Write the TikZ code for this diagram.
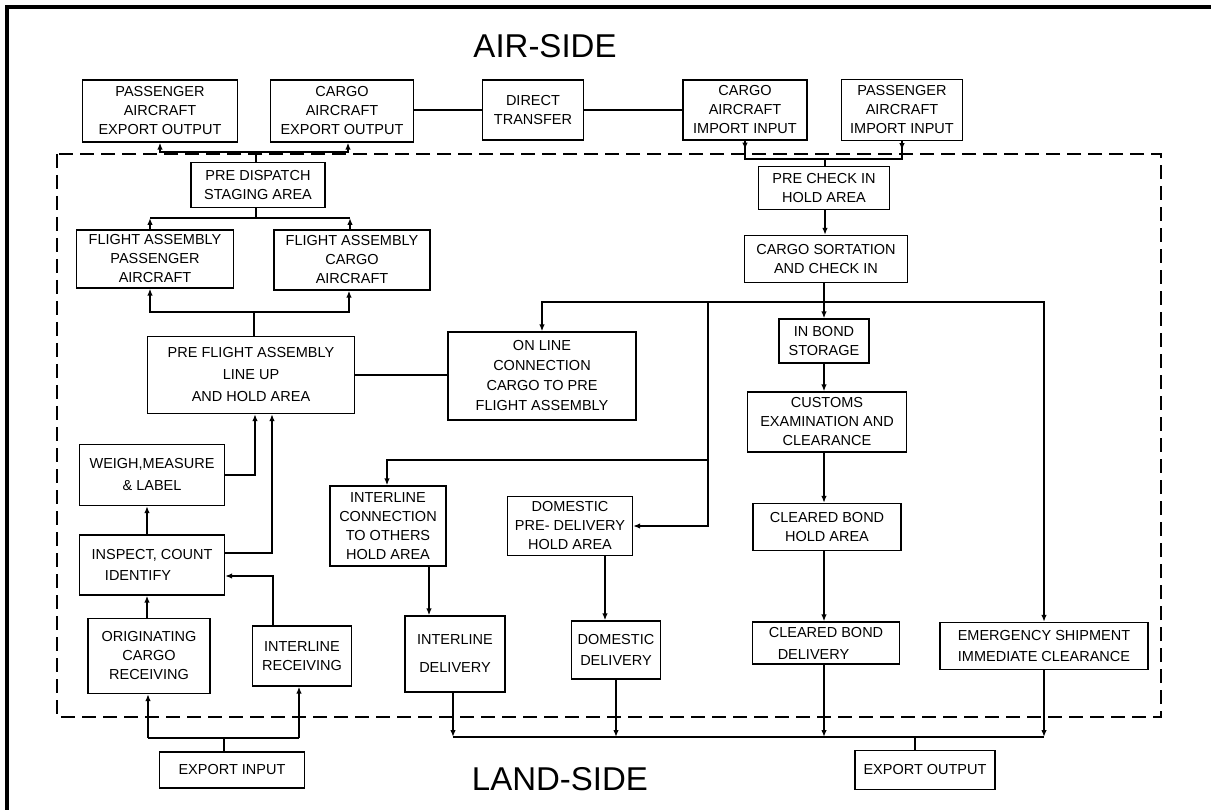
\documentclass[tikz,border=0pt]{standalone}
\usepackage{fontspec}
\setmainfont{Liberation Sans}
\usetikzlibrary{arrows.meta}
\begin{document}
\begin{tikzpicture}[x=1pt,y=-1pt,
  box/.style={draw, line width=1.3pt, align=center, inner sep=0pt,
    font=\fontsize{14.5}{19}\selectfont},
  conn/.style={line width=2pt},
  arr/.style={line width=2pt, -{Latex[length=7pt,width=5.5pt]}},
  zone/.style={line width=1.4pt, dash pattern=on 14pt off 7pt},
  frame/.style={line width=3.5pt},
  side/.style={font=\fontsize{33}{36}\selectfont}]
\useasboundingbox (0,0) rectangle (1211,810);
\fill[white] (0,0) rectangle (1211,810);
% frame
\draw[frame] (7,810) -- (7,7) -- (1211,7);
% zone
\draw[zone] (57,154) rectangle (1161,717);
\node[side] (air) at (545,46) {AIR-SIDE};
\node[side] (land) at (560,779) {LAND-SIDE};
% top row
\node[box, minimum width=155pt, minimum height=62pt] (pae) at (160,111) {PASSENGER\\AIRCRAFT\\EXPORT OUTPUT};
\node[box, minimum width=143pt, minimum height=62pt] (cae) at (342,111) {CARGO\\AIRCRAFT\\EXPORT OUTPUT};
\node[box, minimum width=101pt, minimum height=60pt] (dt) at (533,110) {DIRECT\\TRANSFER};
\node[box, minimum width=124pt, minimum height=60pt] (cai) at (745,110) {CARGO\\AIRCRAFT\\IMPORT INPUT};
\node[box, minimum width=121pt, minimum height=61pt] (pai) at (902,110) {PASSENGER\\AIRCRAFT\\IMPORT INPUT};
% left column
\node[box, minimum width=134pt, minimum height=45pt] (pds) at (258,185) {PRE DISPATCH\\STAGING AREA};
\node[box, minimum width=157pt, minimum height=58pt] (fap) at (155,259) {FLIGHT ASSEMBLY\\PASSENGER\\AIRCRAFT};
\node[box, minimum width=156pt, minimum height=60pt] (fac) at (352,260) {FLIGHT ASSEMBLY\\CARGO\\AIRCRAFT};
\node[box, minimum width=207pt, minimum height=77pt, font=\fontsize{14.5}{22}\selectfont] (pfa) at (251,375) {PRE FLIGHT ASSEMBLY\\LINE UP\hspace*{40pt}\\AND HOLD AREA};
\node[box, minimum width=188pt, minimum height=88pt, font=\fontsize{14.5}{20}\selectfont] (olc) at (542,376) {ON LINE\\CONNECTION\\CARGO TO PRE\\FLIGHT ASSEMBLY};
\node[box, minimum width=145pt, minimum height=61pt, font=\fontsize{14.5}{22}\selectfont] (wml) at (152,475) {WEIGH,MEASURE\\\& LABEL};
\node[box, minimum width=145pt, minimum height=60pt, font=\fontsize{14.5}{21}\selectfont] (ici) at (152,565) {INSPECT, COUNT\\IDENTIFY\hspace*{28pt}};
\node[box, minimum width=122pt, minimum height=75pt] (ocr) at (149,656) {ORIGINATING\\CARGO\\RECEIVING};
\node[box, minimum width=99pt, minimum height=60pt] (irc) at (302,656) {INTERLINE\\RECEIVING};
\node[box, minimum width=145pt, minimum height=36pt] (ein) at (232,770) {EXPORT INPUT};
% middle
\node[box, minimum width=116pt, minimum height=80pt] (icc) at (388,526) {INTERLINE\\CONNECTION\\TO OTHERS\\HOLD AREA};
\node[box, minimum width=125pt, minimum height=59pt] (dpd) at (570,526) {DOMESTIC\\PRE- DELIVERY\\HOLD AREA};
\node[box, minimum width=100pt, minimum height=76pt, font=\fontsize{14.5}{28}\selectfont] (ild) at (455,654) {INTERLINE\\DELIVERY};
\node[box, minimum width=89pt, minimum height=58pt, font=\fontsize{14.5}{21}\selectfont] (ddl) at (616,650) {DOMESTIC\\DELIVERY};
% right column
\node[box, minimum width=131pt, minimum height=43pt] (pci) at (824,188) {PRE CHECK IN\\HOLD AREA};
\node[box, minimum width=163pt, minimum height=47pt] (cs) at (826,259) {CARGO SORTATION\\AND CHECK IN};
\node[box, minimum width=90pt, minimum height=44pt] (ibs) at (824,341) {IN BOND\\STORAGE};
\node[box, minimum width=159pt, minimum height=60pt] (cec) at (827,422) {CUSTOMS\\EXAMINATION AND\\CLEARANCE};
\node[box, minimum width=148pt, minimum height=47pt] (cbh) at (827,527) {CLEARED BOND\\HOLD AREA};
\node[box, minimum width=147pt, minimum height=42pt, font=\fontsize{14.5}{22}\selectfont] (cbd) at (826,643) {CLEARED BOND\\DELIVERY\hspace*{25pt}};
\node[box, minimum width=208pt, minimum height=47pt, font=\fontsize{14.5}{21}\selectfont] (esi) at (1044,646) {EMERGENCY SHIPMENT\\IMMEDIATE CLEARANCE};
\node[box, minimum width=140pt, minimum height=39pt] (eou) at (925,770) {EXPORT OUTPUT};
% coordinates
\coordinate (j1) at (256,152);
\coordinate (j2) at (825,159);
\coordinate (j3) at (256,218);
\coordinate (j4) at (254,312);
\coordinate (j5) at (824,302);
\coordinate (j6) at (708,302);
\coordinate (j7) at (708,460);
\coordinate (bus) at (0,737);
\coordinate (bus2) at (0,738);
% top row links
\draw[conn] (dt.west -| cae.east) -- (dt.west);
\draw[conn] (dt.east) -- (dt.east -| cai.west);
% export output
\draw[conn] (pds.north -| j1) -- (j1);
\draw[arr] (j1) -| (pae.south);
\draw[arr] (j1) -| ([xshift=6pt]cae.south);
% import input
\draw[conn] (cai.south) |- (j2) -| (pai.south);
\draw[conn] (j2) -- (pci.north -| j2);
\draw[arr] (cai.south) -- ++(0,9);
\draw[arr] (pai.south) -- ++(0,9);
% flight assembly to pre dispatch
\draw[conn] (pds.south -| j3) -- (j3);
\draw[conn] ([xshift=-5pt]fap.north |- j3) -- ([xshift=-2pt]fac.north |- j3);
\draw[arr] ([xshift=-5pt]fap.north) -- ([xshift=-5pt]fap.north |- j3);
\draw[arr] ([xshift=-2pt]fac.north) -- ([xshift=-2pt]fac.north |- j3);
% pre flight to flight assembly
\draw[conn] (pfa.north -| j4) -- (j4);
\draw[arr] (j4) -| ([xshift=-5pt]fap.south);
\draw[arr] (j4) -| ([xshift=-3pt]fac.south);
% pre flight -- on line
\draw[conn] (pfa.east) -- (pfa.east -| olc.west);
% pre check -> sortation
\draw[arr] (pci.south -| j2) -- (cs.north -| j2);
% sortation distribution
\draw[arr] (cs.south -| ibs.north) -- (ibs.north);
\draw[arr] (j5) -| (olc.north);
\draw[arr] (j5) -| (esi.north);
\draw[arr] (j6) |- (dpd.east);
\draw[arr] (j7) -| ([xshift=-1pt]icc.north);
% customs chain
\draw[arr] (ibs.south) -- (ibs.south |- cec.north);
\draw[arr] (cec.south -| ibs.south) -- (cbh.north -| ibs.south);
\draw[arr] (cbh.south -| ibs.south) -- (cbd.north -| ibs.south);
% middle chains
\draw[arr] ([xshift=41pt]icc.south) -- ([xshift=41pt]icc.south |- ild.north);
\draw[arr] ([xshift=35pt]dpd.south) -- ([xshift=35pt]dpd.south |- ddl.north);
% output bus
\draw[conn] ([xshift=-2pt]ild.south |- bus) -- (esi.south |- bus);
\draw[arr] ([xshift=-2pt]ild.south) -- ([xshift=-2pt]ild.south |- bus);
\draw[arr] (ddl.south) -- (ddl.south |- bus);
\draw[arr] (cbd.south -| ibs.south) -- (ibs.south |- bus);
\draw[arr] (esi.south) -- (esi.south |- bus);
\draw[conn] ([xshift=-10pt]eou.north) -- ([xshift=-10pt]eou.north |- bus);
% input side
\draw[conn] ([xshift=-8pt]ein.north) -- ([xshift=-8pt]ein.north |- bus2);
\draw[conn] ([xshift=-1pt]ocr.south |- bus2) -- ([xshift=-3pt]irc.south |- bus2);
\draw[arr] ([xshift=-1pt]ocr.south |- bus2) -- ([xshift=-1pt]ocr.south);
\draw[arr] ([xshift=-3pt]irc.south |- bus2) -- ([xshift=-3pt]irc.south);
\draw[arr] ([xshift=-2pt]ocr.north) -- ([xshift=-2pt]ocr.north |- ici.south);
\draw[arr] ([xshift=-5pt]ici.north) -- ([xshift=-5pt]wml.south);
\draw[arr] (wml.east) -| ([xshift=4pt]pfa.south);
\draw[arr] ([yshift=12pt]ici.east) -| ([xshift=21pt]pfa.south);
\draw[arr] ([xshift=-29pt]irc.north) |- ([yshift=-11pt]ici.east);
\end{tikzpicture}
\end{document}
